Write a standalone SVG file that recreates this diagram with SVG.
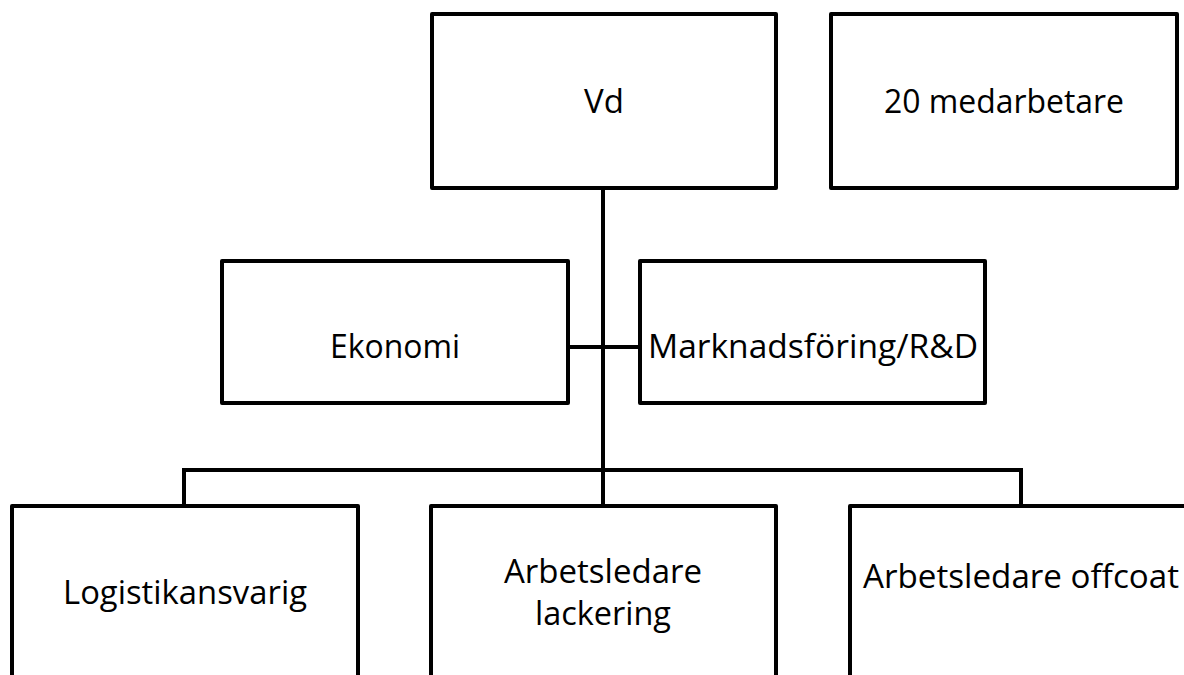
<svg xmlns="http://www.w3.org/2000/svg" width="1184" height="675" viewBox="0 0 1184 675">
<style>
.box{fill:#fff;stroke:#000;stroke-width:4;stroke-linejoin:round}
.ln{fill:none;stroke:#000;stroke-width:4}
text{font-family:"Open Sans","Liberation Sans",sans-serif;font-size:33px;fill:#000;text-anchor:middle}
</style>
<rect width="1184" height="675" fill="#fff"/>
<g id="connectors">
<path class="ln" d="M603 188 V470"/>
<path class="ln" d="M568 347 H640"/>
<path class="ln" d="M184 506 V470 H1021 V506"/>
<path class="ln" d="M603 470 V506"/>
</g>
<g id="vd"><rect class="box" x="432" y="14" width="344" height="174"/><text x="604" y="113">Vd</text></g>
<g id="medarbetare"><rect class="box" x="831" y="14" width="346" height="174"/><text x="1004" y="113" textLength="240" lengthAdjust="spacingAndGlyphs">20 medarbetare</text></g>
<g id="ekonomi"><rect class="box" x="222" y="261" width="346" height="142"/><text x="395" y="358" textLength="130" lengthAdjust="spacingAndGlyphs">Ekonomi</text></g>
<g id="marknad"><rect class="box" x="640" y="261" width="345" height="142"/><text x="813" y="358" textLength="330" lengthAdjust="spacingAndGlyphs">Marknadsföring/R&amp;D</text></g>
<g id="logistik"><rect class="box" x="12" y="506" width="346" height="200"/><text x="185" y="604" textLength="244" lengthAdjust="spacingAndGlyphs">Logistikansvarig</text></g>
<g id="lackering"><rect class="box" x="431" y="506" width="345" height="200"/><text x="603" y="583" textLength="198" lengthAdjust="spacingAndGlyphs">Arbetsledare</text><text x="603" y="625" textLength="136" lengthAdjust="spacingAndGlyphs">lackering</text></g>
<g id="offcoat"><rect class="box" x="850" y="506" width="346" height="200"/><text x="1021" y="588" textLength="316" lengthAdjust="spacingAndGlyphs">Arbetsledare offcoat</text></g>
</svg>
